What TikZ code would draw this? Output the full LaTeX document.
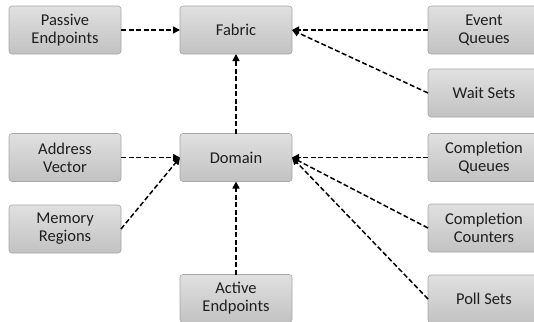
\documentclass[tikz,border=0pt]{standalone}
\usepackage{fontspec}
\setmainfont{Carlito}
\usetikzlibrary{arrows.meta}
\definecolor{boxborder}{HTML}{A6A6A6}
\definecolor{boxtop}{HTML}{E0E0E0}
\definecolor{boxbot}{HTML}{C2C2C2}
\definecolor{txt}{HTML}{1E1E1E}
\tikzset{
  box/.style={draw=boxborder, line width=0.6pt, rounded corners=3pt,
    top color=boxtop, bottom color=boxbot,
    minimum width=112pt, minimum height=48pt, inner sep=0pt, outer sep=0pt,
    align=center, text=txt, font=\fontsize{16.5}{18}\selectfont},
  link/.style={draw=black, line width=1.5pt, dash pattern=on 5pt off 2.5pt,
    -{Triangle[length=7pt,width=7pt]}}
}
\begin{document}
\begin{tikzpicture}[x=1pt,y=-1pt]
\useasboundingbox (0,0) rectangle (534,321);
\node[box] (pe) at (65,30) {Passive\\Endpoints};
\node[box] (fab) at (236,30) {Fabric};
\node[box] (eq) at (484,30) {Event\\Queues};
\node[box] (ws) at (484,93) {Wait Sets};
\node[box] (av) at (65,157.5) {Address\\Vector};
\node[box] (dom) at (236,157.5) {Domain};
\node[box] (cq) at (484,157.5) {Completion\\Queues};
\node[box] (mr) at (65,229) {Memory\\Regions};
\node[box] (cc) at (484,228) {Completion\\Counters};
\node[box] (ae) at (236,298.5) {Active\\Endpoints};
\node[box] (ps) at (484,299) {Poll Sets};
\draw[link] (pe.east) -- (fab.west);
\draw[link] (eq.west) -- (fab.east);
\draw[link] (ws.west) -- (fab.east);
\draw[link] (dom.north) -- (fab.south);
\draw[link] (av.east) -- (dom.west);
\draw[link] (mr.east) -- (dom.west);
\draw[link] (ae.north) -- (dom.south);
\draw[link] (cq.west) -- (dom.east);
\draw[link] (cc.west) -- (dom.east);
\draw[link] (ps.west) -- (dom.east);
\end{tikzpicture}
\end{document}
